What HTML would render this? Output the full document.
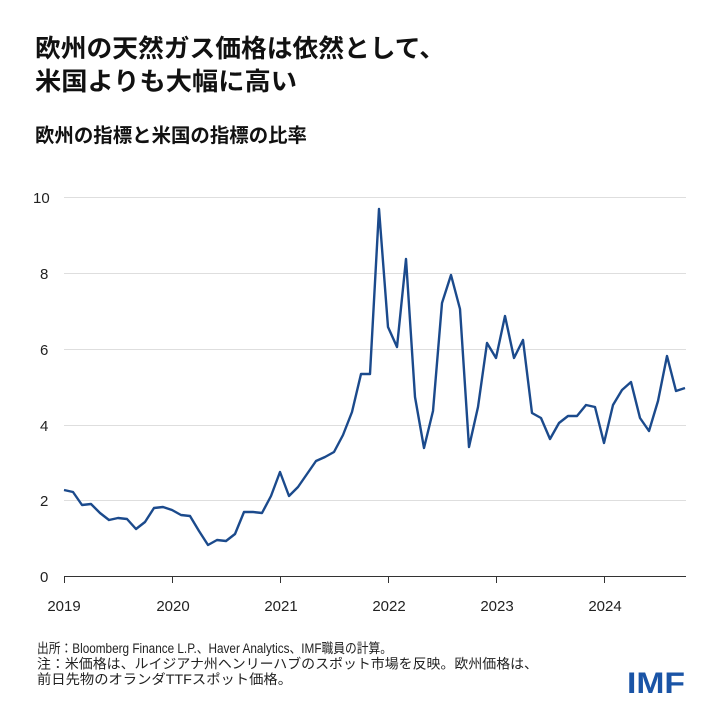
<!DOCTYPE html>
<html><head><meta charset="utf-8"><style>
html,body{margin:0;padding:0;background:#fff;}
svg{display:block;font-family:"Liberation Sans","Noto Sans CJK JP",sans-serif;}
</style></head><body>
<svg width="720" height="720" viewBox="0 0 720 720" xmlns="http://www.w3.org/2000/svg">
<rect width="720" height="720" fill="#fff"/>
<text x="35" y="57" font-size="25" font-weight="bold" fill="#111" textLength="410" lengthAdjust="spacingAndGlyphs">欧州の天然ガス価格は依然として、</text>
<text x="35" y="90" font-size="25" font-weight="bold" fill="#111" textLength="262" lengthAdjust="spacingAndGlyphs">米国よりも大幅に高い</text>
<text x="35" y="142" font-size="19.5" font-weight="bold" fill="#111" textLength="272" lengthAdjust="spacingAndGlyphs">欧州の指標と米国の指標の比率</text>
<g stroke="#dedede" stroke-width="1">
<line x1="64" y1="197.5" x2="686" y2="197.5"/>
<line x1="64" y1="273.5" x2="686" y2="273.5"/>
<line x1="64" y1="349.5" x2="686" y2="349.5"/>
<line x1="64" y1="425.5" x2="686" y2="425.5"/>
<line x1="64" y1="500.5" x2="686" y2="500.5"/>
</g>
<line x1="64" y1="576.5" x2="686" y2="576.5" stroke="#333" stroke-width="1"/>
<g stroke="#333" stroke-width="1">
<line x1="64.5" y1="576" x2="64.5" y2="583"/>
<line x1="172.5" y1="576" x2="172.5" y2="583"/>
<line x1="280.5" y1="576" x2="280.5" y2="583"/>
<line x1="388.5" y1="576" x2="388.5" y2="583"/>
<line x1="496.5" y1="576" x2="496.5" y2="583"/>
<line x1="604.5" y1="576" x2="604.5" y2="583"/>
</g>
<g font-size="15" fill="#222">
<text x="33" y="203">10</text>
<text x="40" y="279">8</text>
<text x="40" y="355">6</text>
<text x="40" y="431">4</text>
<text x="40" y="506">2</text>
<text x="40" y="582">0</text>
</g>
<g font-size="15" fill="#222" text-anchor="middle">
<text x="64" y="611">2019</text>
<text x="173" y="611">2020</text>
<text x="281" y="611">2021</text>
<text x="389" y="611">2022</text>
<text x="497" y="611">2023</text>
<text x="605" y="611">2024</text>
</g>
<polyline fill="none" stroke="#1b4a8c" stroke-width="2.4" stroke-linejoin="round" points="64,490 73,492 82,505 91,504 100,513 109,520 118,518 127,519 136,529 145,522 154,508 163,507 172,510 181,515 190,516 199,531 208,545 217,540 226,541 235,534 244,512 253,512 262,513 271,496 280,472 289,496 298,487 307,474 316,461 325,457 334,452 343,435 352,412 361,374 370,374 379,209 388,327 397,347 406,259 415,397 424,448 433,411 442,303 451,275 460,309 469,447 478,407 487,343 496,358 505,316 514,358 523,340 532,413 541,418 550,439 559,423 568,416 577,416 586,405 595,407 604,443 613,405 622,390 631,382 640,418 649,431 658,401 667,356 676,391 685,388"/>
<g font-size="13.5" fill="#222">
<text x="37" y="653" textLength="355" lengthAdjust="spacingAndGlyphs">出所：Bloomberg Finance L.P.、Haver Analytics、IMF職員の計算。</text>
<text x="37" y="668.5" textLength="501" lengthAdjust="spacingAndGlyphs">注：米価格は、ルイジアナ州ヘンリーハブのスポット市場を反映。欧州価格は、</text>
<text x="37" y="684" textLength="255" lengthAdjust="spacingAndGlyphs">前日先物のオランダTTFスポット価格。</text>
</g>
<text x="627" y="693" font-size="30" font-weight="bold" fill="#1a54a6" textLength="58" lengthAdjust="spacingAndGlyphs">IMF</text>
</svg>
</body></html>
